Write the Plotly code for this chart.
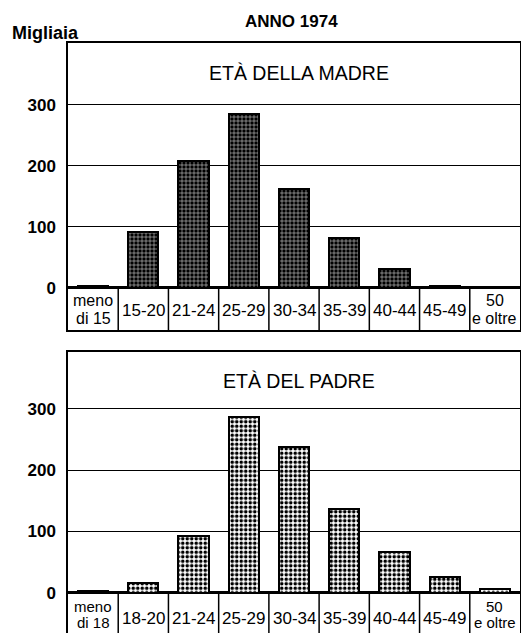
import plotly.graph_objects as go

# ---- data (migliaia di nati, anno 1974) ----
mother_labels = ["meno\ndi 15", "15-20", "21-24", "25-29", "30-34",
                 "35-39", "40-44", "45-49", "50\ne oltre"]
mother_values = [3, 91, 208, 285, 162, 81, 31, 3, 1]

father_labels = ["meno\ndi 18", "18-20", "21-24", "25-29", "30-34",
                 "35-39", "40-44", "45-49", "50\ne oltre"]
father_values = [2, 16, 92, 287, 238, 137, 66, 25, 6]

y_ticks = [0, 100, 200, 300]
title_main = "ANNO 1974"
unit_label = "Migliaia"
title_mother = "ETÀ DELLA MADRE"
title_father = "ETÀ DEL PADRE"

FONT = "Liberation Sans, Arial, Helvetica, sans-serif"
W, H = 521, 633

fig = go.Figure()

fig.add_trace(go.Bar(
    x=list(range(len(mother_values))), y=mother_values,
    xaxis="x", yaxis="y", width=0.6,
    marker=dict(color="black", line=dict(color="black", width=2),
                pattern=dict(shape="+", fgcolor="white", bgcolor="black",
                             size=4, solidity=0.22, fillmode="replace")),
    showlegend=False, hoverinfo="skip"))

fig.add_trace(go.Bar(
    x=list(range(len(father_values))), y=father_values,
    xaxis="x2", yaxis="y2", width=0.6,
    marker=dict(color="white", line=dict(color="black", width=2),
                pattern=dict(shape=".", fgcolor="black", bgcolor="white",
                             size=4.5, solidity=0.5, fillmode="replace")),
    showlegend=False, hoverinfo="skip"))

n = len(mother_values)
top_range = [-69, 401]
bot_range = [-66, 393]

xdom = [68 / W, 520 / W]
ax_common = dict(range=[-0.5, n - 0.5], showgrid=False, zeroline=False,
                 showticklabels=False, ticks="", showline=True, mirror=True,
                 linecolor="black", linewidth=1.5, fixedrange=True)
ay_common = dict(tickvals=y_ticks, showgrid=True, gridcolor="black", gridwidth=1.3,
                 zeroline=True, zerolinecolor="black", zerolinewidth=2.5,
                 showline=True, mirror=True, linecolor="black", linewidth=1.5,
                 ticks="", ticklabelstandoff=7,
                 tickfont=dict(family=FONT, size=17, color="black", weight="bold"),
                 fixedrange=True)

fig.update_layout(
    width=W, height=H, margin=dict(l=0, r=0, t=0, b=0),
    paper_bgcolor="white", plot_bgcolor="white", bargap=0,
    xaxis=dict(domain=xdom, anchor="y", **ax_common),
    yaxis=dict(domain=[1 - 330 / H, 1 - 43 / H], anchor="x", range=top_range, **ay_common),
    xaxis2=dict(domain=xdom, anchor="y2", **ax_common),
    yaxis2=dict(domain=[0, 1 - 352 / H], anchor="x2", range=bot_range, **ay_common),
)

shapes = []
annotations = []

def add_cells(labels, xref, yref, ymin, y1, y2c, gap, size2):
    for i, lab in enumerate(labels):
        if i < len(labels) - 1:
            shapes.append(dict(type="line", xref=xref, yref=yref,
                               x0=i + 0.5, x1=i + 0.5, y0=ymin, y1=0,
                               line=dict(color="black", width=1.5)))
        lines = lab.split("\n")
        if len(lines) == 1:
            ys = [y1]
            size = 17
        else:
            ys = [y2c + gap / 2, y2c - gap / 2]
            size = size2
        for txt, yy in zip(lines, ys):
            annotations.append(dict(xref=xref, yref=yref, x=i, y=yy, text=txt,
                                    showarrow=False, xanchor="center", yanchor="middle",
                                    font=dict(family=FONT, size=size, color="black")))

add_cells(mother_labels, "x", "y", top_range[0], -37, -36, 29, 16)
add_cells(father_labels, "x2", "y2", bot_range[0], -42, -36, 27, 15)

annotations.append(dict(xref="x domain", yref="y", x=0.51, y=352, text=title_mother,
                        showarrow=False, font=dict(family=FONT, size=19.5, color="black")))
annotations.append(dict(xref="x2 domain", yref="y2", x=0.51, y=346, text=title_father,
                        showarrow=False, font=dict(family=FONT, size=19.5, color="black")))
annotations.append(dict(xref="paper", yref="paper", x=291 / W, y=1 - 21 / H, text=title_main,
                        showarrow=False, xanchor="center", yanchor="middle",
                        font=dict(family=FONT, size=17, color="black", weight="bold")))
annotations.append(dict(xref="paper", yref="paper", x=10 / W, y=1 - 33 / H, text=unit_label,
                        showarrow=False, xanchor="left", yanchor="middle",
                        font=dict(family=FONT, size=18, color="black", weight="bold")))

fig.update_layout(shapes=shapes, annotations=annotations)
fig.write_html("out.html", config={"displayModeBar": False},
               post_script="document.body.style.margin='0';document.body.style.overflow='hidden';")
